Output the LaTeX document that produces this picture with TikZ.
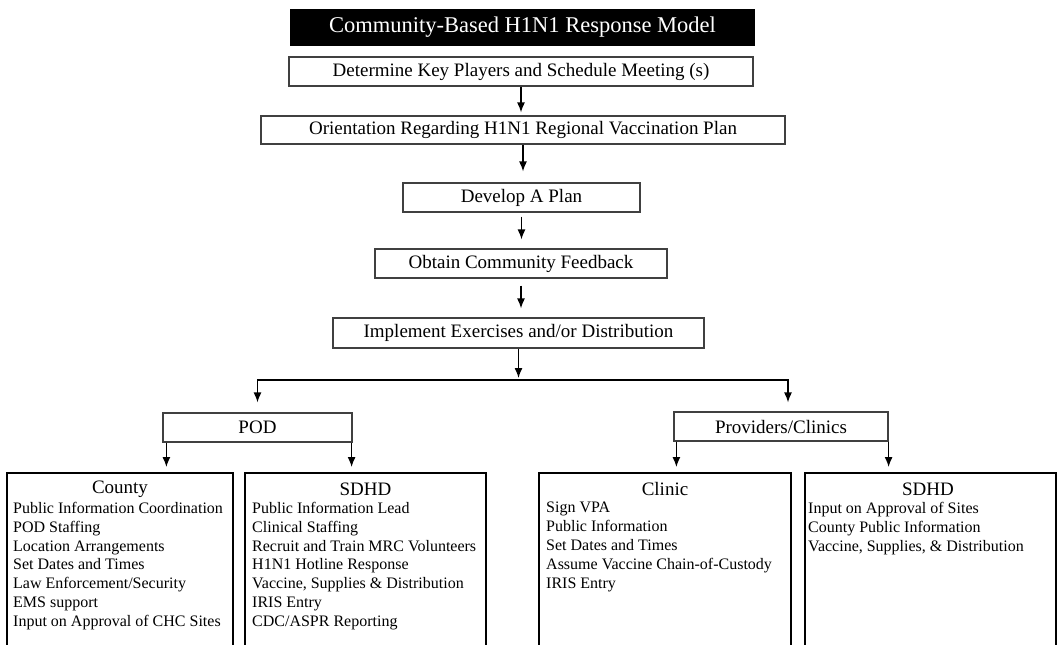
\documentclass[tikz,border=0pt]{standalone}
\usepackage{fontspec}
\setmainfont{Liberation Serif}
\usetikzlibrary{positioning,arrows.meta}

\begin{document}
\begin{tikzpicture}[x=1pt,y=-1pt,
  stepbox/.style={draw=black!75,line width=1.2pt,inner sep=0pt,minimum height=29pt,font=\fontsize{19}{22}\selectfont},
  listbox/.style={draw=black,line width=1.8pt,minimum height=200pt,anchor=north,inner sep=0pt},
  head/.style={font=\fontsize{19}{22}\selectfont},
  items/.style={font=\fontsize{16}{18.8}\selectfont,align=left,anchor=north west,inner sep=0pt},
  flow/.style={-{Latex[length=10pt,width=8pt]},line width=1.3pt}]

\useasboundingbox (0,0) rectangle (1058,645);

%title
\node[fill=black,text=white,minimum width=465pt,minimum height=37pt,inner sep=0pt,font=\fontsize{22.5}{26}\selectfont] (title) at (522.5,27.5) {Community-Based H1N1 Response Model};

%main steps
\node[stepbox,minimum width=464pt] (key) at (521,71.5) {Determine Key Players and Schedule Meeting (s)};
\node[stepbox,minimum width=524pt,minimum height=28pt] (orient) at (523,130) {Orientation Regarding H1N1 Regional Vaccination Plan};
\node[stepbox,minimum width=237pt] (plan) at (521.5,197.5) {Develop A Plan};
\node[stepbox,minimum width=292pt] (feedback) at (521,263.5) {Obtain Community Feedback};
\node[stepbox,minimum width=371pt,minimum height=30pt] (implement) at (518.5,333) {Implement Exercises and/or Distribution};

\draw[flow,shorten >=3pt] (key) -- (key |- orient.north);
\draw[flow,shorten >=11pt] (orient) -- (orient |- plan.north);
\draw[flow,shorten <=4pt,shorten >=9pt] (plan) -- (plan |- feedback.north);
\draw[flow,shorten <=7pt,shorten >=9pt] (feedback) -- (feedback |- implement.north);

%branches
\node[stepbox,minimum width=189pt] (pod) at (257.5,427.5) {POD};
\node[stepbox,minimum width=214pt] (prov) at (781,426.5) {Providers/Clinics};
\coordinate (split) at (518.5,380);
\coordinate (provin) at (788,380);

\draw[flow,shorten >=2pt] (implement) -- (split);
\draw[flow,shorten >=10pt] (split) -| (pod.north);
\draw[flow,shorten >=9pt] (split) -- (provin) -- (provin |- prov.north);

%county
\node[listbox,minimum width=226pt] (county) at (120,472) {};
\node[head] (countyhead) at (120,489) {County};
\node[items] (countylist) at (13,502) {Public Information Coordination\\POD Staffing\\Location Arrangements\\Set Dates and Times\\Law Enforcement/Security\\EMS support\\Input on Approval of CHC Sites};

%sdhd pod
\node[listbox,minimum width=241pt] (sdhdpod) at (365.5,472) {};
\node[head] (sdhdpodhead) at (365.5,489) {SDHD};
\node[items] (sdhdpodlist) at (252,502) {Public Information Lead\\Clinical Staffing\\Recruit and Train MRC Volunteers\\H1N1 Hotline Response\\Vaccine, Supplies \& Distribution\\IRIS Entry\\CDC/ASPR Reporting};

%clinic
\node[listbox,minimum width=252pt] (clinic) at (665,472) {};
\node[head] (clinichead) at (665,489) {Clinic};
\node[items] (cliniclist) at (546,502) {Sign VPA\\Public Information\\Set Dates and Times\\Assume Vaccine Chain-of-Custody\\IRIS Entry};

%sdhd providers
\node[listbox,minimum width=251pt] (sdhdprov) at (930.5,472) {};
\node[head] (sdhdprovhead) at (928,489) {SDHD};
\node[items] (sdhdprovlist) at (808,502) {Input on Approval of Sites\\County Public Information\\Vaccine, Supplies, \& Distribution};

\draw[flow,shorten >=5pt] ([xshift=4pt]pod.south west) -- ([xshift=4pt]pod.south west |- county.north);
\draw[flow,shorten >=5pt] ([xshift=-1pt]pod.south east) -- ([xshift=-1pt]pod.south east |- sdhdpod.north);
\draw[flow,shorten >=5pt] ([xshift=3pt]prov.south west) -- ([xshift=3pt]prov.south west |- clinic.north);
\draw[flow,shorten >=5pt] (prov.south east) -- (prov.south east |- sdhdprov.north);

\end{tikzpicture}
\end{document}
